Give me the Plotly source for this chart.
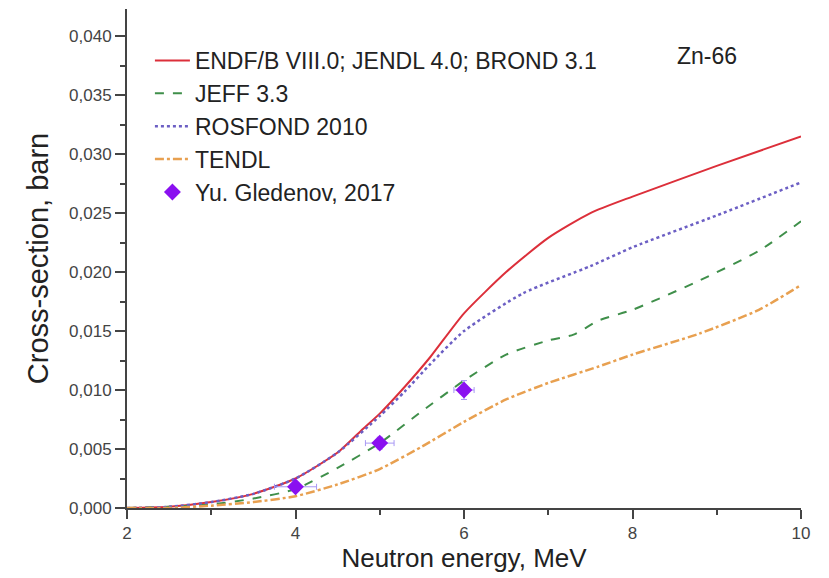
import plotly.graph_objects as go

# ENDF/B VIII.0; JENDL 4.0; BROND 3.1
e_endf = [2.0, 2.5, 3.0, 3.5, 4.0, 4.5, 4.8, 5.0, 5.3, 5.6, 6.0, 6.5, 7.0, 7.5, 8.0, 9.0, 10.0]
xs_endf = [0.0, 0.0001, 0.0005, 0.0012, 0.0025, 0.0047, 0.0067, 0.0080, 0.0103, 0.0128, 0.0165, 0.0200, 0.0229, 0.0250, 0.0264, 0.0290, 0.0315]

# JEFF 3.3
e_jeff = [2.0, 2.5, 3.0, 3.5, 4.0, 4.5, 5.0, 5.5, 6.0, 6.5, 7.0, 7.3, 7.6, 8.0, 8.8, 9.5, 10.0]
xs_jeff = [0.0, 0.0001, 0.0003, 0.0008, 0.0016, 0.0034, 0.0055, 0.0082, 0.0108, 0.0130, 0.0142, 0.0147, 0.0159, 0.0168, 0.0193, 0.0218, 0.0243]

# ROSFOND 2010
e_ros = [2.0, 2.5, 3.0, 3.5, 4.0, 4.5, 5.0, 5.3, 5.6, 6.0, 6.7, 7.5, 8.0, 9.0, 10.0]
xs_ros = [0.0, 0.0001, 0.0005, 0.0012, 0.0025, 0.0047, 0.0078, 0.0099, 0.0122, 0.0150, 0.0182, 0.0205, 0.0221, 0.0248, 0.0276]

# TENDL
e_tendl = [2.0, 2.5, 3.0, 3.5, 4.0, 4.5, 5.0, 5.5, 6.0, 6.5, 7.0, 7.6, 8.0, 8.8, 9.5, 10.0]
xs_tendl = [0.0, 0.0, 0.0002, 0.0005, 0.0010, 0.0020, 0.0033, 0.0052, 0.0073, 0.0092, 0.0106, 0.0120, 0.0130, 0.0148, 0.0168, 0.0189]

# Yu. Gledenov, 2017
e_exp = [4.0, 5.0, 6.0]
xs_exp = [0.0018, 0.0055, 0.0100]
e_err = [0.25, 0.17, 0.12]
xs_err = [0.0003, 0.0005, 0.0008]

x_ticks = [2, 4, 6, 8, 10]
y_ticks = [0.0, 0.005, 0.010, 0.015, 0.020, 0.025, 0.030, 0.035, 0.040]

fig = go.Figure()
fig.add_trace(go.Scatter(x=e_endf, y=xs_endf, mode="lines", name="ENDF/B VIII.0; JENDL 4.0; BROND 3.1",
                         line=dict(color="#dc2f3a", width=2, shape="spline", smoothing=0.6)))
fig.add_trace(go.Scatter(x=e_jeff, y=xs_jeff, mode="lines", name="JEFF 3.3",
                         line=dict(color="#3f8f4a", width=2, dash="dash", shape="spline", smoothing=0.6)))
fig.add_trace(go.Scatter(x=e_ros, y=xs_ros, mode="lines", name="ROSFOND 2010",
                         line=dict(color="#6c5fc4", width=2.5, dash="dot", shape="spline", smoothing=0.6)))
fig.add_trace(go.Scatter(x=e_tendl, y=xs_tendl, mode="lines", name="TENDL",
                         line=dict(color="#e8a050", width=2.5, dash="dashdot", shape="spline", smoothing=0.6)))
fig.add_trace(go.Scatter(x=e_exp, y=xs_exp, mode="markers", name="Yu. Gledenov, 2017",
                         marker=dict(symbol="diamond", size=13, color="#8a10f0"),
                         error_x=dict(type="data", array=e_err, color="#a898f4", thickness=1, width=3),
                         error_y=dict(type="data", array=xs_err, color="#a898f4", thickness=1, width=3)))

fam = "Liberation Sans, Arial, sans-serif"
axis_font = dict(family=fam, size=17, color="#444444")
fig.update_layout(
    width=829, height=578,
    margin=dict(l=127, r=28, t=9, b=70),
    paper_bgcolor="white", plot_bgcolor="white",
    separators=",.",
    font=dict(family=fam, color="#222222"),
    legend=dict(x=0.034, y=0.94, xanchor="left", yanchor="top", bgcolor="rgba(0,0,0,0)",
                font=dict(size=23, color="#222222"), tracegroupgap=0, itemwidth=35),
    xaxis=dict(range=[2, 10], tickvals=x_ticks, ticks="outside", ticklen=9, tickwidth=2,
               tickcolor="#444444", showline=True, linecolor="#444444", linewidth=2,
               showgrid=False, zeroline=False, tickfont=axis_font,
               minor=dict(ticks="outside", ticklen=5, tickwidth=2, tickcolor="#444444", dtick=1),
               title=dict(text="Neutron energy, MeV", font=dict(size=26, color="#222222"), standoff=2)),
    yaxis=dict(range=[0, 0.0423], tickvals=y_ticks, tickformat=".3f", ticks="outside", ticklen=10, tickwidth=2,
               tickcolor="#444444", showline=True, linecolor="#444444", linewidth=2,
               showgrid=False, zeroline=False, tickfont=axis_font,
               minor=dict(ticks="outside", ticklen=5, tickwidth=2, tickcolor="#444444", dtick=0.0025),
               title=dict(text="Cross-section, barn", font=dict(size=29, color="#222222"), standoff=12)),
    annotations=[dict(text="Zn-66", x=0.86, y=0.905, xref="paper", yref="paper", showarrow=False,
                      xanchor="center", yanchor="middle", font=dict(size=23, color="#222222"))],
)

fig.write_html("out.html")
